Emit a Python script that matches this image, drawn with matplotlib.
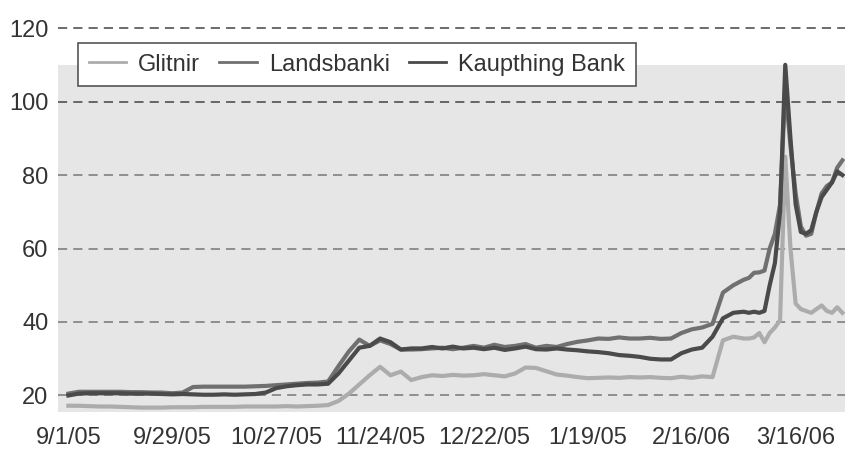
import matplotlib
matplotlib.use("Agg")
import matplotlib.pyplot as plt

plt.rcParams['font.family'] = ['Liberation Sans', 'DejaVu Sans']

# trading-day index: every 2nd day up to 128, then daily
days = list(range(0, 130, 2)) + list(range(130, 150))

glitnir = [17.2, 17.2, 17.1, 17.0, 17.0, 16.9, 16.8, 16.7, 16.7, 16.7,
           16.8, 16.8, 16.8, 16.9, 16.9, 16.9, 16.9, 17.0, 17.0, 17.0,
           17.0, 17.1, 17.0, 17.1, 17.2, 17.4, 18.5, 20.5, 23.0, 25.5,
           27.8, 25.5, 26.5, 24.2, 25.0, 25.5, 25.3, 25.6, 25.4, 25.5,
           25.8, 25.5, 25.2, 26.0, 27.6, 27.5, 26.6, 25.7, 25.4, 25.0,
           24.7, 24.8, 24.9, 24.8, 25.0, 24.9, 25.0, 24.8, 24.7, 25.1,
           24.8, 25.2, 25.0, 35.0, 36.0,
           35.5, 35.5, 35.8, 37.0, 34.5, 37.0, 38.5, 40.5, 85.0, 60.0,
           45.0, 43.5, 43.0, 42.5, 43.5, 44.5, 43.0, 42.5, 44.0, 42.5]

landsbanki = [20.5, 21.0, 21.0, 21.0, 21.0, 21.0, 20.9, 20.9, 20.8, 20.8,
              20.6, 20.8, 22.3, 22.4, 22.4, 22.4, 22.4, 22.4, 22.5, 22.6,
              22.8, 23.0, 23.2, 23.4, 23.5, 23.8, 28.0, 32.0, 35.2, 33.5,
              35.0, 34.0, 32.5, 32.5, 32.6, 32.8, 33.0, 32.6, 33.0, 33.5,
              33.0, 33.8, 33.2, 33.5, 34.0, 33.0, 33.5, 33.2, 34.0, 34.6,
              35.0, 35.5, 35.4, 35.8, 35.5, 35.5, 35.7, 35.4, 35.5, 37.0,
              38.0, 38.5, 39.5, 48.0, 50.0,
              51.5, 52.0, 53.4, 53.5, 54.0, 60.0, 64.0, 72.0, 104.0, 88.0,
              75.0, 66.0, 63.5, 64.0, 70.0, 75.0, 77.0, 78.0, 82.0, 84.0]

kaupthing = [20.0, 20.5, 20.6, 20.6, 20.6, 20.6, 20.5, 20.5, 20.5, 20.4,
             20.3, 20.4, 20.3, 20.2, 20.2, 20.3, 20.2, 20.3, 20.4, 20.8,
             22.0, 22.5, 22.8, 23.0, 23.0, 23.2, 26.0, 29.5, 33.0, 33.5,
             35.5, 34.5, 32.5, 32.8, 32.8, 33.2, 32.8, 33.3, 32.8, 33.0,
             32.6, 33.0, 32.4, 32.8, 33.3, 32.6, 32.5, 32.8, 32.5, 32.3,
             32.0, 31.8, 31.5, 31.0, 30.8, 30.5, 30.0, 29.8, 29.8, 31.5,
             32.5, 33.0, 36.0, 41.0, 42.5,
             42.8, 42.5, 42.8, 42.5, 43.0, 50.0, 56.0, 70.0, 110.0, 90.0,
             72.0, 64.5, 64.0, 65.0, 70.0, 74.0, 76.0, 78.0, 81.0, 80.0]

tick_days = [0, 20, 40, 60, 80, 100, 120, 140]
tick_labels = ["9/1/05", "9/29/05", "10/27/05", "11/24/05",
               "12/22/05", "1/19/05", "2/16/06", "3/16/06"]
yticks = [20, 40, 60, 80, 100, 120]

fig = plt.figure(figsize=(8.5, 4.51), dpi=100)
ax = fig.add_axes([58/850, 1-412/451, 787/850, (412-27)/451])
ax.set_xlim(-2, 149.5)
ax.set_ylim(15.5, 120.3)

ax.axhspan(15.5, 110, color="#e6e6e6", zorder=0, lw=0)
for yv in yticks:
    c = "#444444" if yv >= 100 else "#777777"
    ax.axhline(yv, color=c, lw=1.1, dashes=(6, 4), zorder=1)

ax.plot(days, glitnir, color="#acacac", lw=3, label="Glitnir", zorder=3)
ax.plot(days, landsbanki, color="#707070", lw=3, label="Landsbanki", zorder=4)
ax.plot(days, kaupthing, color="#4a4a4a", lw=3, label="Kaupthing Bank", zorder=5)

ax.set_xticks(tick_days)
ax.set_xticklabels(tick_labels)
ax.set_yticks(yticks)
ax.tick_params(length=0, labelsize=17, labelcolor="#333333")
ax.tick_params(axis="x", pad=11)
ax.tick_params(axis="y", pad=7)
for s in ax.spines.values():
    s.set_visible(False)

leg = ax.legend(loc="upper left", bbox_to_anchor=(78/850, 1-43/451),
                bbox_transform=fig.transFigure, borderaxespad=0, ncol=3,
                fontsize=17, fancybox=False, framealpha=1, edgecolor="#555555",
                handlelength=1.6, handletextpad=0.5, columnspacing=0.8,
                borderpad=0.45)
leg.get_frame().set_linewidth(1.2)
for t in leg.get_texts():
    t.set_color("#333333")
for h in leg.get_lines():
    h.set_linewidth(2)

fig.savefig("out.png", dpi=100)
